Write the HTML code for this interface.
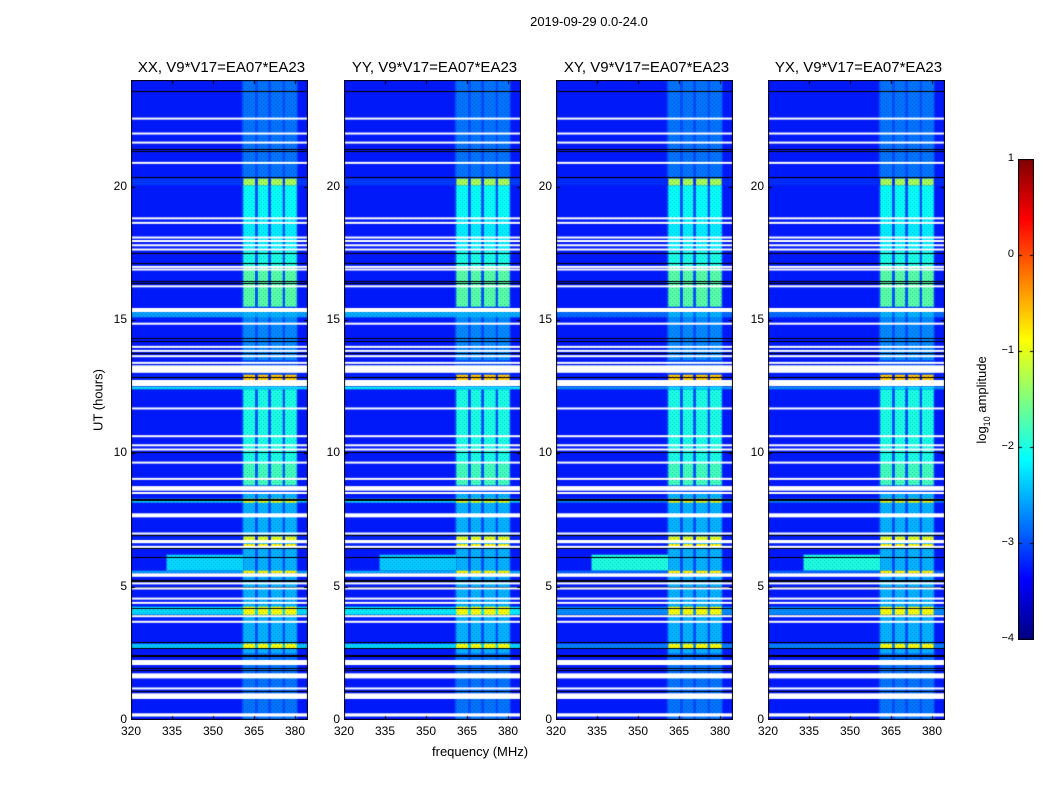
<!DOCTYPE html>
<html><head><meta charset="utf-8">
<style>
body{margin:0;background:#fff;font-family:"Liberation Sans",sans-serif;}
#root{position:relative;width:1050px;height:800px;overflow:hidden;}
.t{position:absolute;white-space:nowrap;color:#000;}
canvas{position:absolute;}
</style></head>
<body><div id="root">
<div class="t" style="left:0;width:1178px;text-align:center;top:14px;font-size:13px">2019-09-29 0.0-24.0</div>
<div class="t" style="left:432px;top:744px;font-size:13px">frequency (MHz)</div>
<div class="t" style="left:98px;top:400px;font-size:13px;transform:translate(-50%,-50%) rotate(-90deg)">UT (hours)</div>
<div class="t" style="left:983px;top:400px;font-size:13px;transform:translate(-50%,-50%) rotate(-90deg)">log<sub style="font-size:9px">10</sub> amplitude</div>
</div>
<script>
const panelTitles=["XX, V9*V17=EA07*EA23","YY, V9*V17=EA07*EA23","XY, V9*V17=EA07*EA23","YX, V9*V17=EA07*EA23"];
const panelLefts=[131,344,556,768];
const broadScale=[1.0,1.1,0.6,0.6];
const xTicks=[320,335,350,365,380];
const yTicks=[0,5,10,15,20];
const cbTicks=[1,0,-1,-2,-3,-4];
const bgValue=-3.25;
const bandBase=[360.5,381,-3.0];
const bandCols=[[361.1,365.4],[366.4,370.2],[371.2,375.5],[376.3,380.6]];
const bandLevels=[[0,2.5,-2.8],[2.5,5.3,-2.5],[5.3,8.5,-2.5],[8.8,9.6,-1.8],[9.6,12.4,-2.0],[13.5,15.2,-2.7],[15.5,17.0,-1.7],[17.0,17.6,-2.0],[17.6,18.8,-2.2],[18.8,20.3,-2.1],[20.3,24,-2.8]];
const rfiRows=[[12.75,12.95,-0.6,-3.2],[8.15,8.3,-0.9,-2.4],[6.75,6.88,-1.0,-3.2],[6.5,6.6,-0.8,-3.2],[5.5,5.6,-0.8,-2.6],[3.95,4.25,-0.9,-2.3],[2.7,2.86,-0.9,-2.4],[20.05,20.3,-1.3,-3.1],[12.4,12.5,-2.3,-2.3],[15.1,15.3,-2.5,-2.6]];
const blobs=[[5.6,6.2,333,361,-2.3]];
const whiteGaps=[[22.53,22.59],[21.97,22.03],[21.63,21.69],[20.87,20.93],[18.79,18.85],[18.62,18.68],[18.07,18.13],[17.94,18.0],[17.78,17.84],[17.62,17.68],[16.97,17.03],[16.87,16.93],[16.24,16.3],[15.3,15.45],[14.84,14.9],[13.97,14.03],[13.82,13.88],[13.62,13.68],[13.37,13.43],[13.02,13.3],[12.52,12.75],[11.66,11.72],[10.62,10.68],[10.28,10.34],[10.12,10.18],[9.63,9.69],[9.02,9.08],[8.6,8.77],[8.49,8.55],[7.6,7.75],[6.97,7.03],[6.63,6.75],[6.47,6.53],[5.37,5.5],[5.1,5.16],[4.91,4.97],[4.53,4.59],[4.37,4.43],[3.87,3.93],[3.66,3.72],[2.06,2.25],[1.56,1.75],[1.16,1.22],[0.79,1.0],[0.13,0.25]];
const blackLines=[23.58,21.41,21.34,20.38,17.5,17.12,16.46,16.4,14.31,14.2,13.77,12.87,10.06,8.29,8.25,6.94,6.45,6.12,5.25,5.2,4.98,4.21,3.94,2.94,2.69,2.44,2.39,1.94,1.88,1.09];

const root=document.getElementById('root');
const W=177,H=640,TOP=80;
const fx=f=>(f-320)*41/15;
const fy=h=>H-h*H/24;
function jet(v){let t=(v+4)/5;t=Math.max(0,Math.min(1,t));
 const c=x=>Math.round(255*Math.max(0,Math.min(1,1.5-Math.abs(4*t-x))));
 return `rgb(${c(3)},${c(2)},${c(1)})`;}
function rect(ctx,f0,f1,h0,h1,v){ctx.fillStyle=jet(v);const y0=fy(h1),y1=fy(h0);ctx.fillRect(fx(f0),y0,fx(f1)-fx(f0),Math.max(1,y1-y0));}
function txt(s,x,y,fs,name,align){const d=document.createElement('div');d.className='t';d.textContent=s;d.style.fontSize=fs+'px';d.style.top=y+'px';
 if(align==='c'){d.style.left=(x-100)+'px';d.style.width='200px';d.style.textAlign='center';}
 else{d.style.left=(x-60)+'px';d.style.width='60px';d.style.textAlign='right';}
 
 
 root.appendChild(d);}
panelLefts.forEach((L,p)=>{
 const cv=document.createElement('canvas');cv.width=W;cv.height=H;cv.style.left=L+'px';cv.style.top=TOP+'px';
 
 
 root.appendChild(cv);const ctx=cv.getContext('2d');
 ctx.fillStyle=jet(bgValue);ctx.fillRect(0,0,W,H);
 rect(ctx,bandBase[0],bandBase[1],0,24,bandBase[2]);
 bandLevels.forEach(b=>bandCols.forEach(c=>rect(ctx,c[0],c[1],b[0],b[1],b[2])));
 blobs.forEach(b=>rect(ctx,b[2],b[3],b[0],b[1],b[4]+(1-broadScale[p])*0.8));
 rfiRows.forEach(r=>{const bv=r[3]+(1-broadScale[p])*(bgValue-r[3]);rect(ctx,320,385,r[0],r[1],bv);bandCols.forEach(c=>rect(ctx,c[0],c[1],r[0],r[1],r[2]));});
 // speckle texture
 for(let y=0;y<H;y+=2)for(let x=(y/2)%2*2;x<W;x+=4){ctx.fillStyle='rgba(0,0,90,0.3)';ctx.fillRect(x,y,1,1);}
 ctx.fillStyle='#000';blackLines.forEach(h=>ctx.fillRect(0,Math.round(fy(h)),W,1));
 ctx.fillStyle='#fff';whiteGaps.forEach(g=>{const y0=fy(g[1]),y1=fy(g[0]);ctx.fillRect(0,y0,W,Math.max(2,y1-y0));});
 ctx.strokeStyle='#000';ctx.lineWidth=1;
 xTicks.forEach(t=>{const x=Math.round(fx(t))+0.5;ctx.beginPath();ctx.moveTo(x,H);ctx.lineTo(x,H-4);ctx.moveTo(x,0);ctx.lineTo(x,4);ctx.stroke();});
 yTicks.forEach(t=>{const y=Math.round(fy(t))+0.5;ctx.beginPath();ctx.moveTo(0,y);ctx.lineTo(4,y);ctx.moveTo(W,y);ctx.lineTo(W-4,y);ctx.stroke();});
 ctx.strokeRect(0.5,0.5,W-1,H-1);
 txt(panelTitles[p],L+W/2+2,59,15,'panel-title-'+(p+1),'c');
 xTicks.forEach(t=>txt(String(t),L+fx(t),724,12,'x-tick-label','c'));
 yTicks.forEach(t=>txt(String(t),L-4,TOP+fy(t)-8,12,'y-tick-label','r'));
});
// colorbar
const cb=document.createElement('canvas');cb.width=16;cb.height=481;cb.style.left='1018px';cb.style.top='159px';


root.appendChild(cb);const cc=cb.getContext('2d');
for(let y=0;y<481;y++){cc.fillStyle=jet(1-5*y/480);cc.fillRect(0,y,16,1);}
cc.strokeStyle='#000';cc.strokeRect(0.5,0.5,15,480);
cbTicks.forEach(t=>{const y=(1-t)*96;cc.beginPath();cc.moveTo(0,y+0.5);cc.lineTo(4,y+0.5);cc.moveTo(16,y+0.5);cc.lineTo(12,y+0.5);cc.stroke();
 txt(t<0?'\u2212'+(-t):String(t),1014,159+y-7,11,'colorbar-tick-label','r');});
</script>
</body></html>
